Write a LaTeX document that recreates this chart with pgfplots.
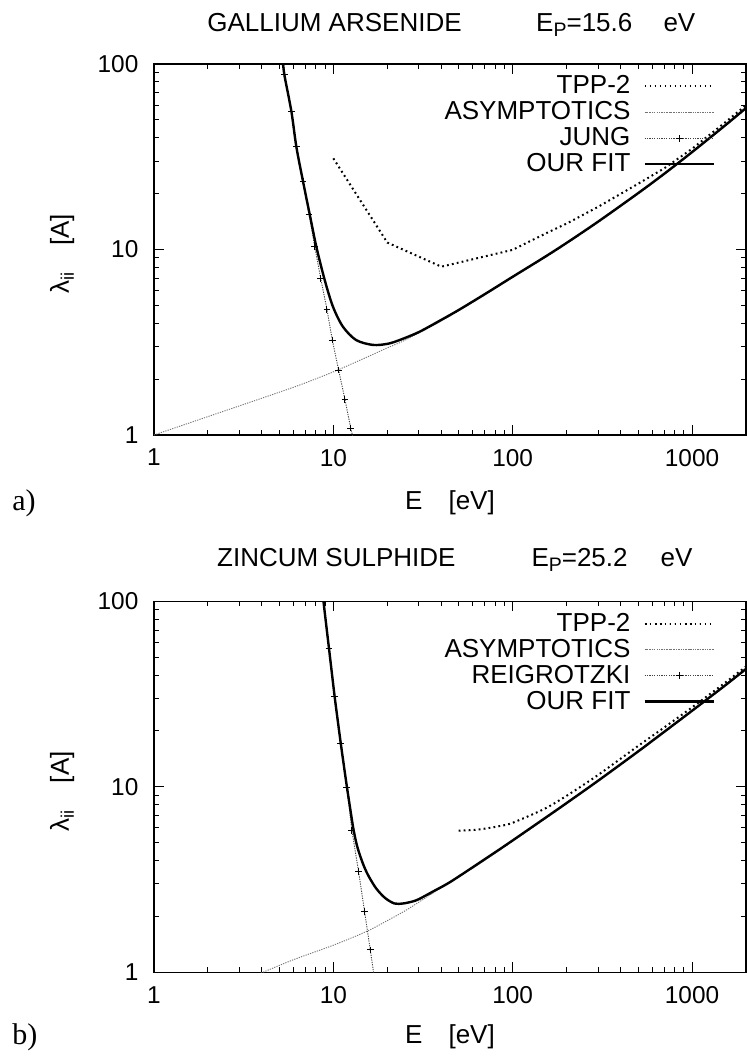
\documentclass[border=0pt]{standalone}
\usepackage{fontspec}
\setmainfont{Liberation Sans}
\newfontfamily\serif{Liberation Serif}
\usepackage{pgfplots}
\pgfplotsset{compat=1.18}

\newcommand\fs{\fontsize{13}{15}\selectfont}
\newcommand\tfs{\fontsize{12.2}{14}\selectfont}

\pgfplotsset{
  every axis/.append style={
    xmode=log, ymode=log,
    scale only axis, width=296pt, height=185.5pt,
    xmin=1, xmax=2000, ymin=1, ymax=100,
    clip mode=individual,
    xtick={1,10,100,1000}, xticklabels={1,10,100,1000},
    ytick={1,10,100}, yticklabels={1,10,100},
    minor xtick={2,3,4,5,6,7,8,9,20,30,40,50,60,70,80,90,200,300,400,500,600,700,800,900,2000},
    minor ytick={2,3,4,5,6,7,8,9,20,30,40,50,60,70,80,90},
    tick align=inside, xtick pos=both, ytick pos=both,
    major tick length=5pt, minor tick length=2.5pt,
    every tick/.style={black, line width=0.5pt},
    axis line style={line width=0.6pt},
    tick label style={font=\tfs},
    xticklabel style={yshift=-3.5pt},
    yticklabel style={xshift=-4.3pt},
    ylabel={λ\textsubscript{ii}\hspace{13pt}[A]},
    ylabel style={at={(axis description cs:-0.155,0.488)}, anchor=center},
    xlabel={E\hspace{13pt}[eV]},
    legend cell align=right, legend plot pos=right,
    legend style={draw=none, fill=none, at={(0.948,0.98)}, anchor=north east,
      column sep=4.5pt, inner sep=0pt, font=\fs, row sep=-1.6pt},
    legend image code/.code={\draw[mark repeat=2, mark phase=2, ##1]
      plot coordinates {(0pt,0pt) (17.25pt,0pt) (34.5pt,0pt)};},
  },
  tppline/.style={black, line width=1pt, dash pattern=on 0.9pt off 1.6pt},
  asymline/.style={black!55, line width=0.45pt, dash pattern=on 0.6pt off 0.6pt},
  exptline/.style={black!75, line width=0.45pt, dash pattern=on 0.6pt off 0.6pt,
    mark=+, mark size=1.7pt, mark options={solid, black, line width=0.5pt}},
  fitline/.style={black, line width=1.2pt},
}
\tikzset{
  ttl/.style={anchor=base west, inner sep=0pt},
  panel/.style={anchor=west, inner sep=0pt, font=\serif\fontsize{15}{17}\selectfont},
}

\begin{document}
\begin{tikzpicture}[font=\fs]
\useasboundingbox (0,0) rectangle (373pt,-529.5pt);

% a) gallium arsenide
\begin{axis}[anchor=south west, at={(77pt,-217.5pt)},
  xlabel style={at={(axis description cs:0.5,-0.183)}, anchor=center}]
\addplot[tppline] coordinates {(10,31) (20,10.9) (40,8.08) (100,9.96) (150,12.1)
  (200,13.8) (300,17.0) (500,22.6) (700,27.4) (1000,34.9) (1500,47.7) (2000,59.9)};
\addlegendentry{TPP-2}
\addplot[asymline, smooth] coordinates {(1,1) (2,1.257) (4,1.58) (6.49,1.86) (10,2.19)
  (15,2.6) (20,2.95) (24.4,3.2) (30,3.55) (39,4.06) (50,4.67) (70,5.69) (100,7.06)
  (150,8.99) (200,10.75) (300,14.0) (500,19.9) (700,25.35) (1000,33.2) (1500,45.5) (2000,57.3)};
\addlegendentry{ASYMPTOTICS}
\addplot[exptline] coordinates {(5.22,115) (5.36,88.3) (5.84,55.3) (6.22,35.8) (6.78,23.3)
  (7.32,15.5) (7.87,10.4) (8.50,7.0) (9.21,4.76) (9.87,3.25) (10.7,2.24) (11.6,1.56)
  (12.5,1.09) (13.1,0.9)};
\addlegendentry{JUNG}
\addplot[fitline, smooth] coordinates {(5.1,125) (5.24,100) (5.36,85) (5.84,55.3)
  (6.22,35.8) (6.78,23.2) (7.38,15.5) (8.04,10.35) (8.95,6.85) (9.95,4.92) (11.3,3.84)
  (13.4,3.25) (16.6,3.06) (20,3.1) (23.4,3.25) (30,3.59) (39,4.12) (50,4.72) (70,5.75)
  (100,7.13) (150,9.08) (200,10.86) (300,14.15) (500,20.11) (700,25.6) (1000,33.5)
  (1500,45.96) (2000,57.9)};
\addlegendentry{OUR FIT}
\node[ttl] at (axis description cs:0.0895,1.087) {GALLIUM ARSENIDE};
\node[ttl] at (axis description cs:0.645,1.087)
  {E\raisebox{-2.5pt}{\fontsize{9.75}{11}\selectfont P}=15.6};
\node[ttl] at (axis description cs:0.86,1.087) {eV};
\node[panel] at (axis description cs:-0.24,-0.185) {a)};
\end{axis}

% b) zincum sulphide
\begin{axis}[anchor=south west, at={(77pt,-486.15pt)},
  xlabel style={at={(axis description cs:0.5,-0.1745)}, anchor=center}]
\addplot[tppline, smooth] coordinates {(50,5.8) (60,5.85) (70,5.95) (85,6.15) (100,6.4)
  (150,7.6) (200,8.95) (300,11.6) (500,16.6) (700,20.9) (1000,26.8) (1500,35.9) (2000,44.5)};
\addlegendentry{TPP-2}
\addplot[asymline, smooth] coordinates {(3.95,0.99) (6,1.17) (10,1.40) (15.3,1.66) (20,1.9)
  (25,2.14) (30,2.39) (40,2.86) (60,3.65) (80,4.4) (100,5.09) (150,6.67) (200,8.1)
  (300,10.7) (500,15.35) (700,19.6) (1000,25.45) (1500,34.35) (2000,42.8)};
\addlegendentry{ASYMPTOTICS}
\addplot[exptline] coordinates {(9.45,56.0) (10.17,30.5) (10.98,17.1) (11.90,9.96)
  (12.69,5.81) (13.83,3.49) (14.94,2.12) (16.07,1.32) (16.98,0.92)};
\addlegendentry{REIGROTZKI}
\addplot[fitline, smooth] coordinates {(8.6,125) (8.81,100) (9.12,75) (9.45,56) (9.8,41.5)
  (10.17,30.6) (10.58,22.8) (11.0,17.15) (11.45,13.0) (11.9,10.0) (12.4,7.7) (12.95,5.9)
  (13.6,4.75) (14.6,3.87) (15.6,3.35) (17.3,2.84) (19.4,2.52) (21.9,2.35) (24.5,2.35)
  (27.7,2.41) (30,2.48) (35.8,2.72) (44.4,3.05) (60,3.69) (80,4.44) (100,5.14) (150,6.74)
  (200,8.18) (300,10.8) (500,15.5) (700,19.8) (1000,25.7) (1500,34.7) (2000,43.2)};
\addlegendentry{OUR FIT}
\node[ttl] at (axis description cs:0.106,1.094) {ZINCUM SULPHIDE};
\node[ttl] at (axis description cs:0.637,1.094)
  {E\raisebox{-2.5pt}{\fontsize{9.75}{11}\selectfont P}=25.2};
\node[ttl] at (axis description cs:0.855,1.094) {eV};
\node[panel] at (axis description cs:-0.24,-0.1745) {b)};
\end{axis}
\end{tikzpicture}
\end{document}
